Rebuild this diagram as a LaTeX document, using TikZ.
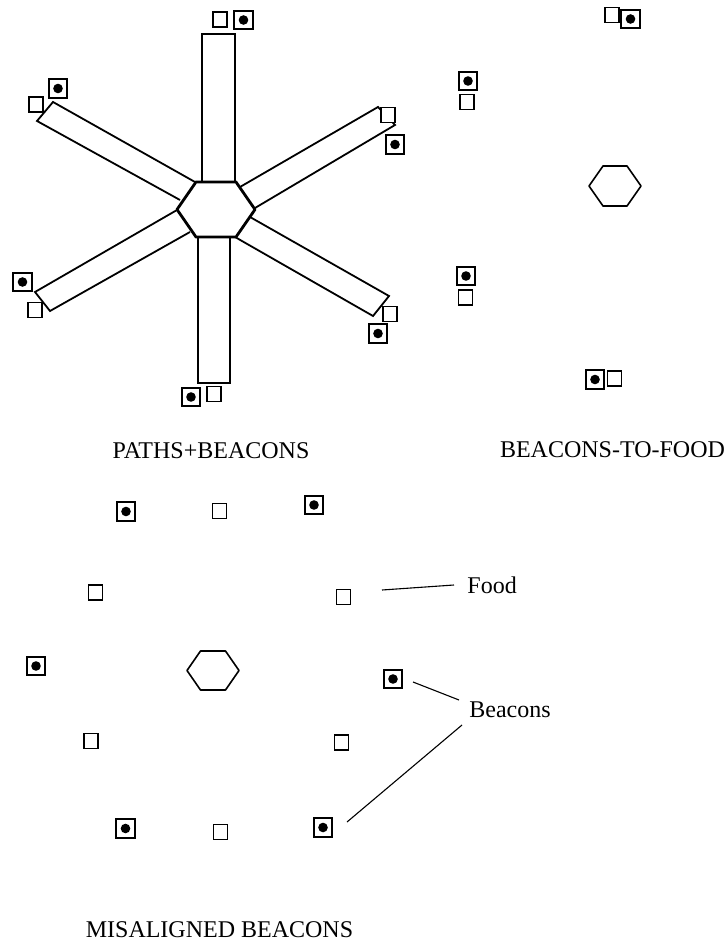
\documentclass[tikz,border=0pt]{standalone}
\usepackage{fontspec}
\setmainfont{Liberation Serif}
\begin{document}
\begin{tikzpicture}[x=0.5pt,y=-0.5pt,
  food/.style={draw, fill=white, rectangle, minimum width=7pt, minimum height=7.5pt, inner sep=0pt, line width=0.65pt},
  beacon/.style={draw, fill=white, rectangle, minimum size=9.3pt, inner sep=0pt, line width=1.1pt,
    path picture={\fill[black] (path picture bounding box.center) circle (2.4pt);}},
  hexbig/.style={line width=1.4pt, line join=round},
  hexsmall/.style={line width=0.8pt, line join=round},
  arm/.style={line width=0.9pt, line join=miter},
  lbl/.style={inner sep=0pt, font=\fontsize{12}{14}\selectfont},
  lead/.style={line width=0.55pt}]
\useasboundingbox (0,0) rectangle (727,940);

% ---------- PATHS+BEACONS ----------
% arms
\draw[arm] (202,182) -- (202,34) -- (235,34) -- (235,182);
\draw[arm] (198,237) -- (198,383) -- (230,383) -- (230,237);
\draw[arm] (195,182) -- (53,102) -- (37,121) -- (180,200);
\draw[arm] (240,187) -- (378,107) -- (395,125) -- (255,208);
\draw[arm] (250,217) -- (389,296) -- (373,316) -- (235,237);
\draw[arm] (177,210) -- (35,292) -- (50,311) -- (190,232);
% hexagon
\draw[hexbig] (196,182) -- (236,182) -- (255,209.5) -- (236,237) -- (196,237) -- (177,209.5) -- cycle;

\node[food]   (f1)  at (220,19.5) {};
\node[beacon] (b1)  at (243.5,20) {};
\node[beacon] (b2)  at (58,88.5) {};
\node[food]   (f2)  at (36,104.5) {};
\node[food]   (f3)  at (388,115) {};
\node[beacon] (b3)  at (395,144.5) {};
\node[beacon] (b4)  at (22.5,282) {};
\node[food]   (f4)  at (35,310) {};
\node[food]   (f5)  at (390,314) {};
\node[beacon] (b5)  at (378,333.5) {};
\node[beacon] (b6)  at (191,397) {};
\node[food]   (f6)  at (214,394) {};

\node[lbl] (t1) at (211,450.5) {PATHS+BEACONS};

% ---------- BEACONS-TO-FOOD ----------
\draw[hexsmall] (603,166) -- (627,166) -- (641,186) -- (627,206) -- (603,206) -- (589,186) -- cycle;
\node[food]   (f7)  at (612,15) {};
\node[beacon] (b7)  at (630.5,19) {};
\node[beacon] (b8)  at (468,81) {};
\node[food]   (f8)  at (467,102) {};
\node[beacon] (b9)  at (466,276) {};
\node[food]   (f9)  at (465.5,297.5) {};
\node[beacon] (b10) at (595,379.5) {};
\node[food]   (f10) at (614.5,378.5) {};

\node[lbl] (t2) at (612.5,449.5) {BEACONS-TO-FOOD};

% ---------- MISALIGNED BEACONS ----------
\draw[hexsmall] (200.5,651) -- (225.5,651) -- (239,670.5) -- (225.5,690) -- (200.5,690) -- (187,670.5) -- cycle;
\node[beacon] (b11) at (126,511.5) {};
\node[food]   (f11) at (219.5,511) {};
\node[beacon] (b12) at (314,505) {};
\node[food]   (f12) at (95.5,592.5) {};
\node[food]   (f13) at (343.5,597) {};
\node[beacon] (b13) at (36,666) {};
\node[beacon] (b14) at (393,679) {};
\node[food]   (f14) at (91,741) {};
\node[food]   (f15) at (341.5,742.5) {};
\node[beacon] (b15) at (125.5,828.5) {};
\node[food]   (f16) at (220.5,832) {};
\node[beacon] (b16) at (323,827.5) {};

\node[lbl, anchor=west] (foodlbl) at (467,585) {Food};
\node[lbl, anchor=west] (beaconlbl) at (469,710) {Beacons};

\coordinate (fa) at (382,590);
\coordinate (fb) at (454,585);
\coordinate (ba) at (413,682);
\coordinate (bb) at (459,700);
\coordinate (bc) at (462,725);
\coordinate (bd) at (347,822);
\draw[lead] (fa) -- (fb);
\draw[lead] (ba) -- (bb);
\draw[lead] (bc) -- (bd);

\node[lbl] (t3) at (219.5,929.5) {MISALIGNED BEACONS};
\end{tikzpicture}
\end{document}
